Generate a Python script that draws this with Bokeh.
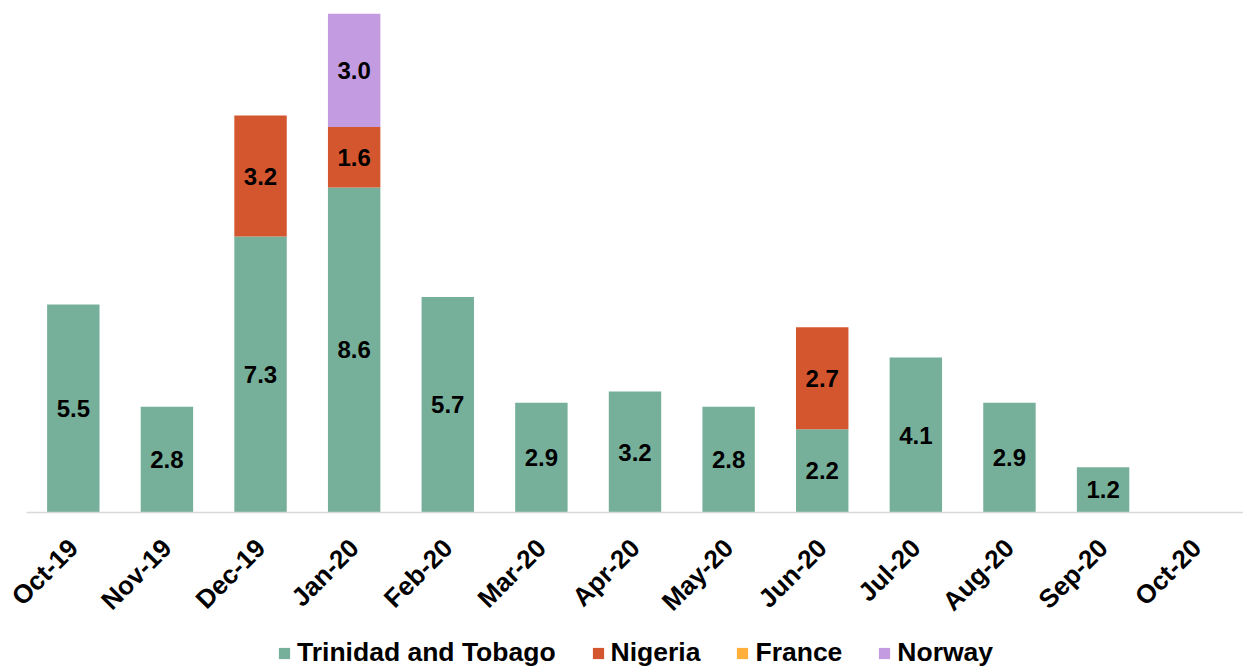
import math
from bokeh.plotting import figure
from bokeh.models import (ColumnDataSource, LabelSet, Legend, LegendItem, Range1d,
                          FixedTicker)
from bokeh.core.properties import value
from bokeh.embed import file_html
from bokeh.resources import INLINE

months = ["Oct-19", "Nov-19", "Dec-19", "Jan-20", "Feb-20", "Mar-20", "Apr-20",
          "May-20", "Jun-20", "Jul-20", "Aug-20", "Sep-20", "Oct-20"]
trinidad = [5.5, 2.8, 7.3, 8.6, 5.7, 2.9, 3.2, 2.8, 2.2, 4.1, 2.9, 1.2, 0]
nigeria = [0, 0, 3.2, 1.6, 0, 0, 0, 0, 2.7, 0, 0, 0, 0]
france = [0, 0, 0, 0, 0, 0, 0, 0, 0, 0, 0, 0, 0]
norway = [0, 0, 0, 3.0, 0, 0, 0, 0, 0, 0, 0, 0, 0]

series = ["Trinidad and Tobago", "Nigeria", "France", "Norway"]
colors = ["#77B09A", "#D4562F", "#FFB03A", "#C39BE0"]
FONT = "Liberation Sans"

idx = list(range(len(months)))
data = {"x": idx, "months": months, "Trinidad and Tobago": trinidad, "Nigeria": nigeria,
        "France": france, "Norway": norway}
src = ColumnDataSource(data)

W, H = 1243, 668
YMAX = 13.2
px_y = 499 / YMAX
YMIN = -156 / px_y
px_x = 1217 / len(months)
XMIN = -0.5 - 26 / px_x
XMAX = XMIN + W / px_x

p = figure(frame_width=W, frame_height=H - 13, output_backend="svg",
           toolbar_location=None, min_border_left=0, min_border_right=0,
           min_border_top=13, min_border_bottom=0)
p.x_range = Range1d(XMIN, XMAX)
p.y_range = Range1d(YMIN, YMAX)

rs = p.vbar_stack(series, x="x", width=0.56, color=colors, source=src,
                  line_color=None)

# value labels
lx, ly, lt = [], [], []
cols = [trinidad, nigeria, france, norway]
for i in idx:
    base = 0.0
    for c in cols:
        v = c[i]
        if v > 0:
            lx.append(i)
            ly.append(base + v / 2)
            lt.append(f"{v:.1f}")
        base += v
lsrc = ColumnDataSource(dict(x=lx, y=ly, t=lt))
labels = LabelSet(x="x", y="y", text="t", source=lsrc, text_align="center",
                  text_baseline="middle", text_font=value(FONT), text_font_style="bold",
                  text_font_size="24px", text_color="black")
p.add_layout(labels)

p.yaxis.visible = False
p.ygrid.visible = False
p.xgrid.visible = False
p.outline_line_color = None
p.xaxis.fixed_location = 0
p.xaxis.bounds = (-0.5, XMAX)
p.xaxis.ticker = FixedTicker(ticks=idx)
p.xaxis.major_label_overrides = {i: m for i, m in zip(idx, months)}
p.xaxis.axis_line_color = "#D9D9D9"
p.xaxis.axis_line_width = 1.5
p.xaxis.major_tick_line_color = None
p.xaxis.minor_tick_line_color = None
p.xaxis.major_label_orientation = math.pi / 4
p.xaxis.major_label_text_font = FONT
p.xaxis.major_label_text_font_style = "bold"
p.xaxis.major_label_text_font_size = "26px"
p.xaxis.major_label_text_color = "black"
p.xaxis.major_label_standoff = 25

legend = Legend(items=[LegendItem(label=s, renderers=[r]) for s, r in zip(series, rs)],
                orientation="horizontal", location=(277, 0))
legend.label_text_font = FONT
legend.label_text_font_style = "bold"
legend.label_text_font_size = "26.5px"
legend.label_text_color = "black"
legend.glyph_width = 14
legend.glyph_height = 14
legend.label_standoff = 6
legend.spacing = 35
legend.border_line_color = None
legend.background_fill_alpha = 0
legend.padding = 0
legend.margin = 0
p.add_layout(legend, "center")

open("out.html", "w").write(file_html(p, INLINE))
